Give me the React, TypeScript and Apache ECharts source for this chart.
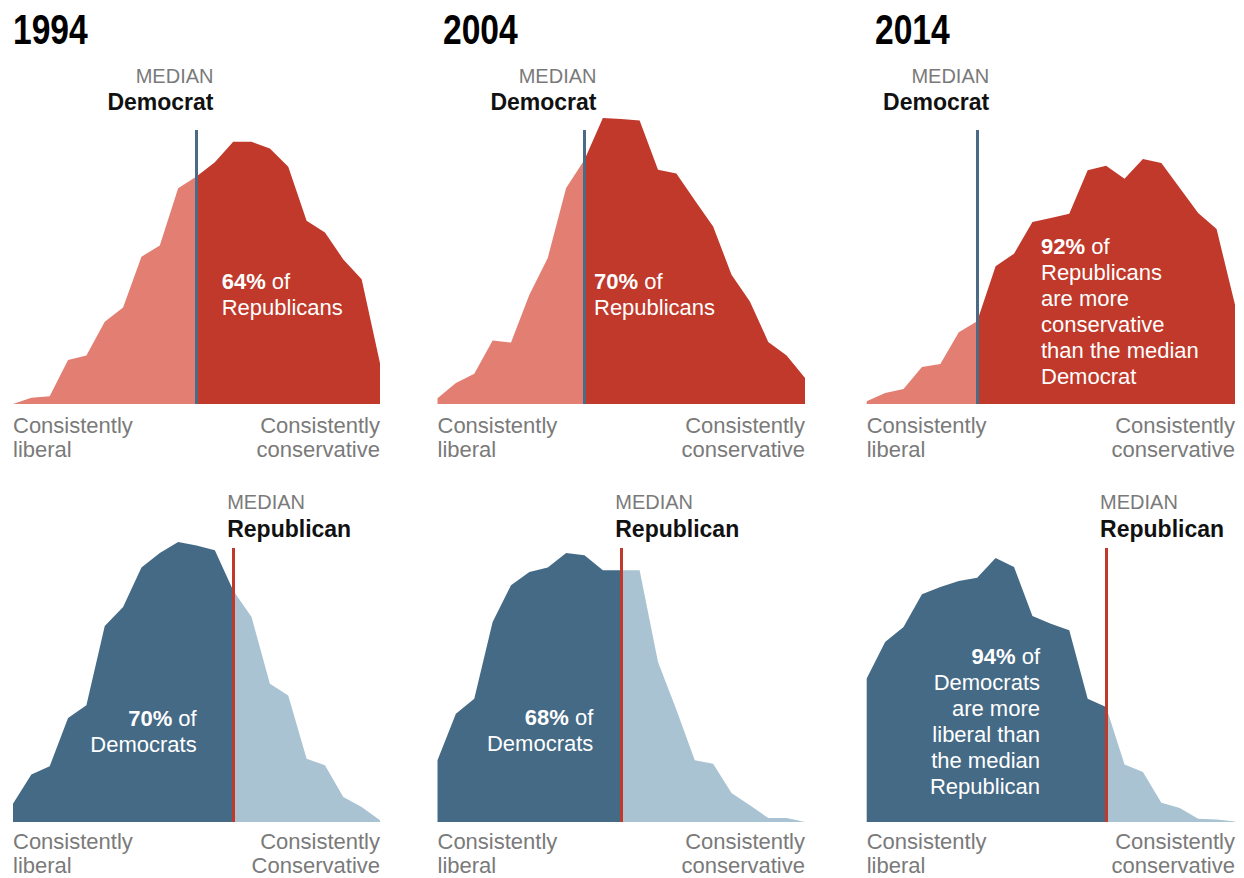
import React, { useEffect, useRef } from "react";
import * as echarts from "echarts";

// ---------- DATA ----------
const years = ["1994", "2004", "2014"];
// 21 points on the ideological consistency scale (liberal -> conservative)
const scalePoints = ["0", "1", "2", "3", "4", "5", "6", "7", "8", "9", "10", "11", "12", "13", "14", "15", "16", "17", "18", "19", "20"];

// Distribution of Republicans (share of group at each scale point)
const rep1994 = [0.0, 0.21, 0.26, 1.47, 1.62, 2.74, 3.22, 4.91, 5.28, 7.19, 7.58, 8.06, 8.74, 8.74, 8.52, 7.91, 6.11, 5.72, 4.82, 4.16, 1.36];
const rep2004 = [0.19, 0.7, 1.01, 2.12, 2.05, 3.64, 4.87, 7.2, 8.14, 9.53, 9.5, 9.45, 7.81, 7.68, 6.79, 5.92, 4.31, 3.42, 2.07, 1.62, 0.87];
const rep2014 = [0.09, 0.37, 0.5, 1.23, 1.33, 2.39, 2.76, 4.59, 5.01, 6.07, 6.2, 6.34, 7.79, 7.94, 7.51, 8.17, 8.03, 7.2, 6.37, 5.83, 3.31];

// Distribution of Democrats
const dem1994 = [0.61, 1.58, 1.86, 3.47, 3.89, 6.53, 7.17, 8.48, 8.97, 9.33, 9.22, 9.06, 7.72, 6.83, 4.61, 4.22, 2.11, 1.89, 0.83, 0.5, 0.06];
const dem2004 = [2.06, 3.61, 4.11, 6.67, 7.89, 8.33, 8.48, 8.97, 8.89, 8.39, 8.39, 8.39, 5.33, 3.74, 2.06, 1.94, 0.97, 0.56, 0.13, 0.13, 0.0];
const dem2014 = [4.78, 6.0, 6.5, 7.59, 7.83, 8.03, 8.14, 8.8, 8.5, 6.87, 6.61, 6.39, 4.11, 3.83, 1.92, 1.67, 0.64, 0.47, 0.11, 0.08, 0.02];

// Scale point of the median of the other party
const medianDemocratIdx = [10, 8, 6];
const medianRepublicanIdx = [12, 10, 13];

const repShare = ["64%", "70%", "92%"];
const demShare = ["70%", "68%", "94%"];
const repNote = ["Republicans", "Republicans", "Republicans\nare more\nconservative\nthan the median\nDemocrat"];
const demNote = ["Democrats", "Democrats", "Democrats\nare more\nliberal than\nthe median\nRepublican"];

const leftEndLabel = "Consistently\nliberal";
const rightEndLabelsTop = ["Consistently\nconservative", "Consistently\nconservative", "Consistently\nconservative"];
const rightEndLabelsBottom = ["Consistently\nConservative", "Consistently\nconservative", "Consistently\nconservative"];

// ---------- STYLE / LAYOUT ----------
const FONT = "'Liberation Sans', Arial, sans-serif";
const colLeft = [13, 437.5, 866.7];
const colWidth = [367, 367.5, 368.3];
const rowTop = [104, 522];
const rowLabelMargin = [9, 7];
const plotHeight = 300;
const yMax = 10;
const medianTop = 9.13;
const titleX = [13, 443, 875];
const topLabelDx = [17, 12, 12];

const C = {
  redLight: "#e37e72",
  redDark: "#c0392a",
  blueDark: "#456a86",
  blueLight: "#a9c3d3",
  medianBlue: "#4b6a85",
  medianRed: "#c0392a",
  gray: "#7a7a7a",
  black: "#111111",
};

// annotation positions (text anchor, first line center)
const repNotePos = [
  [221.7, 281],
  [594, 281],
  [1041, 246],
];
const demNotePos = [
  [196.7, 718],
  [593.3, 717],
  [1040, 656],
];

export default function App() {
  const ref = useRef<HTMLDivElement>(null);

  useEffect(() => {
    if (!ref.current) return;
    const chart = echarts.init(ref.current, null, { renderer: "svg" });

    const panels = [
      { row: 0, col: 0, values: rep1994, m: medianDemocratIdx[0] },
      { row: 0, col: 1, values: rep2004, m: medianDemocratIdx[1] },
      { row: 0, col: 2, values: rep2014, m: medianDemocratIdx[2] },
      { row: 1, col: 0, values: dem1994, m: medianRepublicanIdx[0] },
      { row: 1, col: 1, values: dem2004, m: medianRepublicanIdx[1] },
      { row: 1, col: 2, values: dem2014, m: medianRepublicanIdx[2] },
    ];

    const grid: any[] = [];
    const xAxis: any[] = [];
    const yAxis: any[] = [];
    const series: any[] = [];
    const last = scalePoints.length - 1;

    panels.forEach((pn, p) => {
      const top = pn.row === 0;
      const rightLabel = top ? rightEndLabelsTop[pn.col] : rightEndLabelsBottom[pn.col];
      grid.push({
        left: colLeft[pn.col],
        width: colWidth[pn.col],
        top: rowTop[pn.row],
        height: plotHeight,
        containLabel: false,
        outerBoundsMode: "none",
      });
      xAxis.push({
        type: "category",
        gridIndex: p,
        data: scalePoints,
        boundaryGap: false,
        axisLine: { show: false },
        axisTick: { show: false },
        splitLine: { show: false },
        axisLabel: {
          interval: 0,
          margin: rowLabelMargin[pn.row],
          hideOverlap: false,
          alignMinLabel: "left",
          alignMaxLabel: "right",
          color: C.gray,
          fontSize: 22,
          lineHeight: 24,
          fontFamily: FONT,
          formatter: (_v: string, i: number) => (i === 0 ? leftEndLabel : i === last ? rightLabel : ""),
        },
      });
      yAxis.push({ type: "value", gridIndex: p, min: 0, max: yMax, show: false });

      const leftColor = top ? C.redLight : C.blueDark;
      const rightColor = top ? C.redDark : C.blueLight;
      const lineColor = top ? C.medianBlue : C.medianRed;

      series.push({
        type: "line",
        xAxisIndex: p,
        yAxisIndex: p,
        data: pn.values.map((v, j) => (j <= pn.m ? v : null)),
        symbol: "none",
        showSymbol: false,
        silent: true,
        lineStyle: { width: 0, opacity: 0 },
        areaStyle: { color: leftColor, opacity: 1 },
        z: 2,
      });
      series.push({
        type: "line",
        xAxisIndex: p,
        yAxisIndex: p,
        data: pn.values.map((v, j) => (j >= pn.m ? v : null)),
        symbol: "none",
        showSymbol: false,
        silent: true,
        lineStyle: { width: 0, opacity: 0 },
        areaStyle: { color: rightColor, opacity: 1 },
        z: 3,
        markLine: {
          silent: true,
          symbol: ["none", "none"],
          label: { show: false },
          lineStyle: { color: lineColor, width: 3, type: "solid", opacity: 1 },
          data: [[{ coord: [scalePoints[pn.m], 0] }, { coord: [scalePoints[pn.m], medianTop] }]],
        },
      });
    });

    chart.setOption({
      animation: false,
      backgroundColor: "#ffffff",
      grid,
      xAxis,
      yAxis,
      series,
    });

    const graphic: any[] = [];
    years.forEach((y, i) => {
      graphic.push({
        type: "text",
        x: titleX[i],
        y: 30,
        scaleX: 0.8,
        silent: true,
        style: {
          text: y,
          fontFamily: FONT,
          fontWeight: "bold",
          fontSize: 42,
          fill: "#000",
          align: "left",
          verticalAlign: "middle",
        },
      });
    });

    panels.forEach((pn, p) => {
      const pt = chart.convertToPixel({ gridIndex: p } as any, [scalePoints[pn.m], medianTop] as any) as number[];
      const px = pt[0];
      const py = pt[1];
      if (pn.row === 0) {
        const dx = topLabelDx[pn.col];
        graphic.push({
          type: "text", x: px + dx, y: py - 54, silent: true,
          style: { text: "MEDIAN", fontFamily: FONT, fontSize: 20, fill: C.gray, align: "right", verticalAlign: "middle" },
        });
        graphic.push({
          type: "text", x: px + dx, y: py - 28, silent: true,
          style: { text: "Democrat", fontFamily: FONT, fontSize: 23, fontWeight: "bold", fill: C.black, align: "right", verticalAlign: "middle" },
        });
      } else {
        graphic.push({
          type: "text", x: px - 6, y: py - 46, silent: true,
          style: { text: "MEDIAN", fontFamily: FONT, fontSize: 20, fill: C.gray, align: "left", verticalAlign: "middle" },
        });
        graphic.push({
          type: "text", x: px - 6, y: py - 19, silent: true,
          style: { text: "Republican", fontFamily: FONT, fontSize: 23, fontWeight: "bold", fill: C.black, align: "left", verticalAlign: "middle" },
        });
      }
    });

    const rich = {
      b: { fontFamily: FONT, fontSize: 22, fontWeight: "bold", fill: "#fff", lineHeight: 26 },
      n: { fontFamily: FONT, fontSize: 22, fill: "#fff", lineHeight: 26 },
    };
    const noteText = (share: string, body: string) =>
      `{b|${share}}{n| of}\n` + body.split("\n").map((l) => `{n|${l}}`).join("\n");

    years.forEach((_y, i) => {
      graphic.push({
        type: "text",
        x: repNotePos[i][0],
        y: repNotePos[i][1] - 13,
        silent: true,
        z: 100,
        style: {
          text: noteText(repShare[i], repNote[i]),
          rich,
          fontFamily: FONT,
          fontSize: 22,
          lineHeight: 26,
          fill: "#fff",
          align: "left",
          verticalAlign: "top",
        },
      });
      graphic.push({
        type: "text",
        x: demNotePos[i][0],
        y: demNotePos[i][1] - 13,
        silent: true,
        z: 100,
        style: {
          text: noteText(demShare[i], demNote[i]),
          rich,
          fontFamily: FONT,
          fontSize: 22,
          lineHeight: 26,
          fill: "#fff",
          align: "right",
          verticalAlign: "top",
        },
      });
    });

    chart.setOption({ graphic });

    return () => {
      chart.dispose();
    };
  }, []);

  return (
    <div
      ref={ref}
      style={{ position: "absolute", left: 0, top: 0, width: 1244, height: 878, background: "#fff" }}
    />
  );
}
